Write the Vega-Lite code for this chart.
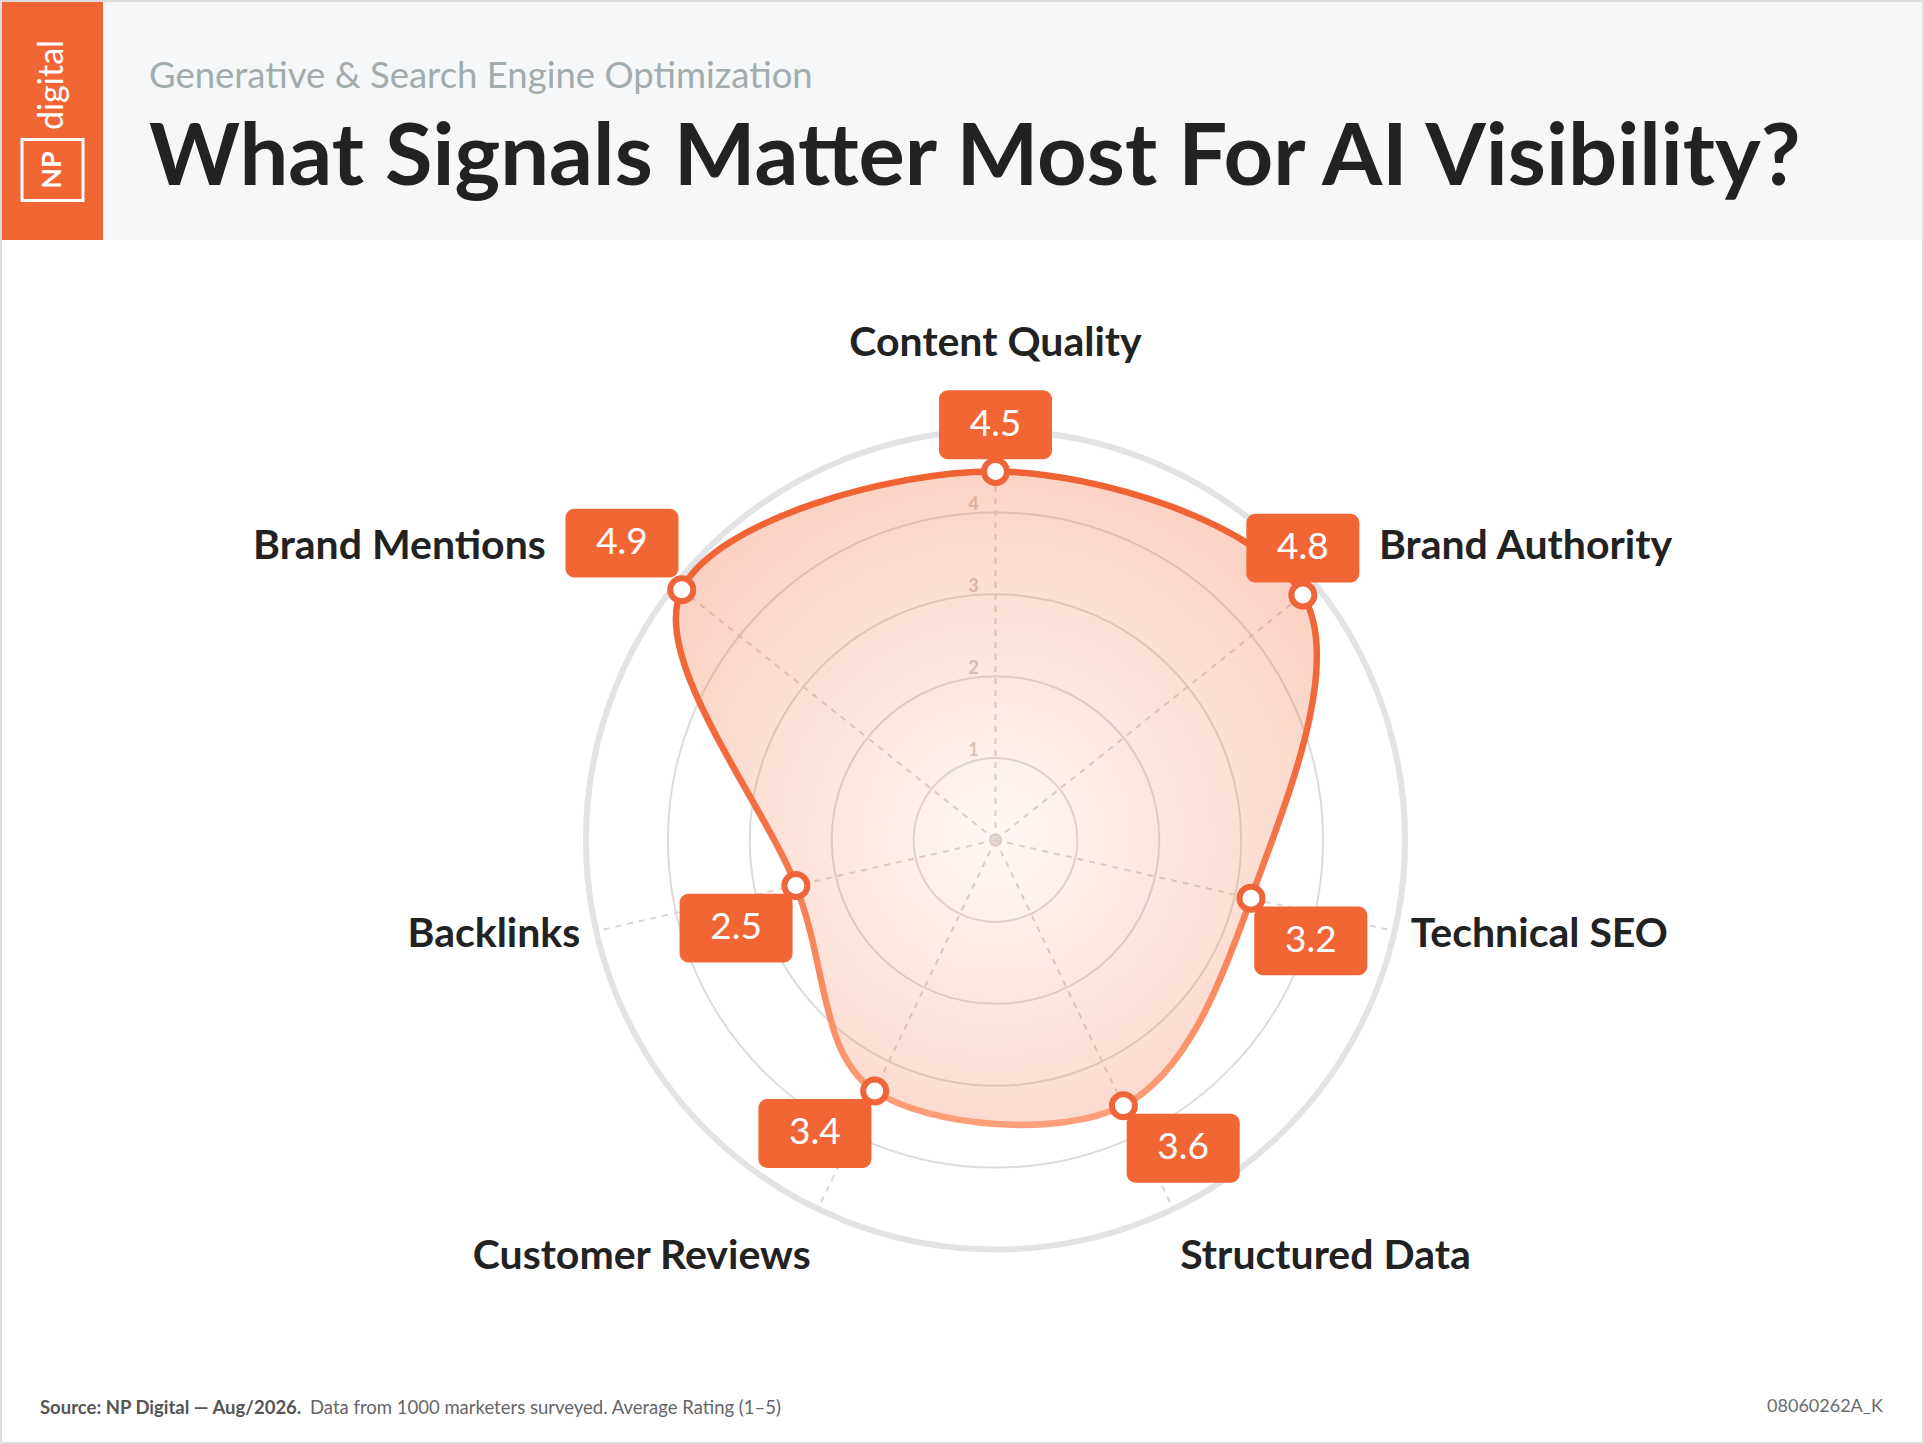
{
  "$schema": "https://vega.github.io/schema/vega-lite/v6.json",
  "background": "#dcdddf",
  "padding": 2,
  "config": {
    "font": "Lato",
    "view": {"stroke": null},
    "concat": {"spacing": 0},
    "title": {"font": "Lato", "subtitleFont": "Lato"}
  },
  "datasets": {
    "signals": [
      {"signal": "Content Quality", "rating": 4.5},
      {"signal": "Brand Authority", "rating": 4.8},
      {"signal": "Technical SEO", "rating": 3.2},
      {"signal": "Structured Data", "rating": 3.6},
      {"signal": "Customer Reviews", "rating": 3.4},
      {"signal": "Backlinks", "rating": 2.5},
      {"signal": "Brand Mentions", "rating": 4.9}
    ],
    "rings": [{"v": 1}, {"v": 2}, {"v": 3}, {"v": 4}, {"v": 5}],
    "logo": [{"part": "digital"}, {"part": "NP"}]
  },
  "title": {"text": "08060262A_K", "orient": "bottom", "anchor": "end", "offset": -44, "dx": -39, "fontSize": 18, "fontWeight": 400, "color": "#6b6b6b"},
  "spacing": 0,
  "vconcat": [
    {
      "spacing": 0,
      "hconcat": [
        {
          "width": 101,
          "height": 238,
          "view": {"fill": "#f26636", "stroke": null},
          "data": {"name": "logo"},
          "layer": [
            {
              "transform": [{"filter": "datum.part == 'digital'"}],
              "mark": {"type": "text", "angle": 270, "color": "white", "fontSize": 34, "fontWeight": 400, "align": "center", "baseline": "middle", "dx": 36},
              "encoding": {"text": {"field": "part", "type": "nominal"}}
            },
            {
              "transform": [{"filter": "datum.part == 'NP'"}],
              "mark": {"type": "text", "angle": 270, "color": "white", "fontSize": 27, "fontWeight": 700, "align": "center", "baseline": "middle", "dx": -49},
              "encoding": {"text": {"field": "part", "type": "nominal"}}
            },
            {
              "transform": [{"filter": "datum.part == 'NP'"}],
              "mark": {"type": "point", "shape": "M-1,0.607H1V2.607H-1Z", "filled": false, "stroke": "white", "strokeWidth": 3, "size": 3721, "opacity": 1}
            }
          ]
        },
        {
          "width": 1819,
          "height": 238,
          "view": {"fill": "#f6f7f9", "stroke": null},
          "title": {
            "text": "Generative & Search Engine Optimization",
            "subtitle": "What Signals Matter Most For AI Visibility?",
            "orient": "top",
            "anchor": "start",
            "offset": -201,
            "dx": 46,
            "fontSize": 36.5,
            "fontWeight": 400,
            "color": "#a2acac",
            "subtitleFontSize": 86.7,
            "subtitleFontWeight": 700,
            "subtitleColor": "#222222",
            "subtitlePadding": 22
          },
          "data": {"values": [{"blank": 0}]},
          "mark": {"type": "point", "opacity": 0}
        }
      ]
    },
    {
      "title": {"text": "Data from 1000 marketers surveyed. Average Rating (1–5)", "orient": "bottom", "anchor": "start", "offset": -43, "dx": 308, "fontSize": 18.5, "fontWeight": 400, "color": "#666666"},
      "vconcat": [
        {
          "width": 1920,
          "height": 1202,
          "view": {"fill": "white", "stroke": null},
          "title": {"text": "Source: NP Digital — Aug/2026.", "orient": "bottom", "anchor": "start", "offset": -43, "dx": 38, "fontSize": 18.5, "fontWeight": 700, "color": "#555555"},
          "data": {"name": "signals"},
          "transform": [
            {"window": [{"op": "row_number", "as": "rn"}]},
            {"calculate": "(datum.rn - 1) * 2 * PI / 7", "as": "a"},
            {"calculate": "sin(datum.a)", "as": "s"},
            {"calculate": "cos(datum.a)", "as": "c"},
            {"calculate": "0", "as": "o"},
            {"calculate": "datum.rating * datum.s", "as": "px"},
            {"calculate": "datum.rating * datum.c", "as": "py"},
            {"calculate": "5 * datum.s", "as": "ex"},
            {"calculate": "5 * datum.c", "as": "ey"},
            {"calculate": "datum.px + (datum.s < -0.1 ? -0.73 : (datum.c < 0 ? 0.73 : 0))", "as": "bx"},
            {"calculate": "datum.py + (datum.c > 0 ? 0.57 : -0.52)", "as": "by"},
            {"calculate": "datum.bx - 0.69", "as": "bx1"},
            {"calculate": "datum.bx + 0.69", "as": "bx2"},
            {"calculate": "datum.by - 0.42", "as": "by1"},
            {"calculate": "datum.by + 0.42", "as": "by2"},
            {"calculate": "datum.s > 0.1 ? (datum.c > 0.2 ? max(5.2 * datum.s, datum.bx2 + 0.24) : 5.2 * datum.s) : (datum.s < -0.1 ? (datum.c > 0.2 ? min(5.2 * datum.s, datum.bx1 - 0.24) : 5.2 * datum.s) : 0)", "as": "lx"},
            {"calculate": "abs(datum.s) < 0.1 ? datum.by2 + 0.57 : 5.6 * datum.c + (datum.c > -0.5 ? 0.09 : -0.05)", "as": "ly"}
          ],
          "layer": [
            {
              "data": {"name": "rings"},
              "transform": [{"filter": "datum.v == 5"}, {"calculate": "0", "as": "o"}],
              "mark": {"type": "arc", "filled": false, "stroke": "#e2e3e5", "strokeWidth": 6, "theta": 0, "theta2": 6.2832},
              "encoding": {
                "x": {"field": "o", "type": "quantitative", "scale": {"domain": [-12.131, 11.313], "nice": false, "zero": false}, "axis": null},
                "y": {"field": "o", "type": "quantitative", "scale": {"domain": [-7.35, 7.326], "nice": false, "zero": false}, "axis": null},
                "radius": {"field": "v", "type": "quantitative", "stack": null, "scale": {"type": "linear", "domain": [0, 5], "range": [0, 409.5], "zero": true}}
              }
            },
            {
              "data": {"name": "rings"},
              "transform": [{"filter": "datum.v < 5"}, {"calculate": "0", "as": "o"}],
              "mark": {"type": "arc", "filled": false, "stroke": "#dcdcdc", "strokeWidth": 2, "theta": 0, "theta2": 6.2832},
              "encoding": {
                "x": {"field": "o", "type": "quantitative", "scale": {"domain": [-12.131, 11.313], "nice": false, "zero": false}, "axis": null},
                "y": {"field": "o", "type": "quantitative", "scale": {"domain": [-7.35, 7.326], "nice": false, "zero": false}, "axis": null},
                "radius": {"field": "v", "type": "quantitative", "stack": null, "scale": {"type": "linear", "domain": [0, 5], "range": [0, 409.5], "zero": true}}
              }
            },
            {
              "data": {"name": "rings"},
              "transform": [{"filter": "datum.v < 5"}, {"calculate": "datum.v + 0.09", "as": "ty"}, {"calculate": "-0.27", "as": "tx"}],
              "mark": {"type": "text", "color": "#d4cbc7", "fontSize": 18, "fontWeight": 700, "align": "center", "baseline": "middle"},
              "encoding": {
                "x": {"field": "tx", "type": "quantitative", "scale": {"domain": [-12.131, 11.313], "nice": false, "zero": false}, "axis": null},
                "y": {"field": "ty", "type": "quantitative", "scale": {"domain": [-7.35, 7.326], "nice": false, "zero": false}, "axis": null},
                "text": {"field": "v", "type": "quantitative"}
              }
            },
            {
              "data": {"name": "rings"},
              "transform": [{"filter": "datum.v == 5"}, {"calculate": "0", "as": "o"}],
              "mark": {"type": "point", "shape": "circle", "filled": false, "stroke": "#dcd4d0", "strokeWidth": 3, "size": 110, "opacity": 1},
              "encoding": {
                "x": {"field": "o", "type": "quantitative", "scale": {"domain": [-12.131, 11.313], "nice": false, "zero": false}, "axis": null},
                "y": {"field": "o", "type": "quantitative", "scale": {"domain": [-7.35, 7.326], "nice": false, "zero": false}, "axis": null}
              }
            },
            {
              "mark": {"type": "rule", "stroke": "#ddd5d1", "strokeWidth": 2, "strokeDash": [6, 6]},
              "encoding": {
                "x": {"field": "o", "type": "quantitative", "scale": {"domain": [-12.131, 11.313], "nice": false, "zero": false}, "axis": null},
                "y": {"field": "o", "type": "quantitative", "scale": {"domain": [-7.35, 7.326], "nice": false, "zero": false}, "axis": null},
                "x2": {"field": "ex"},
                "y2": {"field": "ey"}
              }
            },
            {
              "mark": {
                "type": "line",
                "interpolate": "cardinal-closed",
                "tension": 0,
                "strokeWidth": 6.5,
                "strokeJoin": "round",
                "fill": {
                  "gradient": "radial",
                  "x1": 0.5, "y1": 0.56, "r1": 0,
                  "x2": 0.5, "y2": 0.56, "r2": 0.62,
                  "stops": [
                    {"offset": 0, "color": "rgba(242,102,54,0.05)"},
                    {"offset": 1, "color": "rgba(242,102,54,0.31)"}
                  ]
                },
                "stroke": {
                  "gradient": "linear",
                  "x1": 0, "y1": 0, "x2": 0, "y2": 1,
                  "stops": [
                    {"offset": 0, "color": "#ef6232"},
                    {"offset": 0.45, "color": "#f26a3c"},
                    {"offset": 1, "color": "#fda07a"}
                  ]
                }
              },
              "encoding": {
                "x": {"field": "px", "type": "quantitative", "scale": {"domain": [-12.131, 11.313], "nice": false, "zero": false}, "axis": null},
                "y": {"field": "py", "type": "quantitative", "scale": {"domain": [-7.35, 7.326], "nice": false, "zero": false}, "axis": null},
                "order": {"field": "rn", "type": "quantitative"}
              }
            },
            {
              "mark": {"type": "point", "shape": "circle", "filled": true, "fill": "white", "stroke": "#f0643a", "strokeWidth": 6, "size": 530, "opacity": 1},
              "encoding": {
                "x": {"field": "px", "type": "quantitative", "scale": {"domain": [-12.131, 11.313], "nice": false, "zero": false}, "axis": null},
                "y": {"field": "py", "type": "quantitative", "scale": {"domain": [-7.35, 7.326], "nice": false, "zero": false}, "axis": null}
              }
            },
            {
              "mark": {"type": "rect", "color": "#f26636", "cornerRadius": 9},
              "encoding": {
                "x": {"field": "bx1", "type": "quantitative", "scale": {"domain": [-12.131, 11.313], "nice": false, "zero": false}, "axis": null},
                "x2": {"field": "bx2"},
                "y": {"field": "by1", "type": "quantitative", "scale": {"domain": [-7.35, 7.326], "nice": false, "zero": false}, "axis": null},
                "y2": {"field": "by2"}
              }
            },
            {
              "mark": {"type": "text", "color": "white", "fontSize": 37, "fontWeight": 400, "align": "center", "baseline": "middle"},
              "encoding": {
                "x": {"field": "bx", "type": "quantitative", "scale": {"domain": [-12.131, 11.313], "nice": false, "zero": false}, "axis": null},
                "y": {"field": "by", "type": "quantitative", "scale": {"domain": [-7.35, 7.326], "nice": false, "zero": false}, "axis": null},
                "text": {"field": "rating", "type": "quantitative", "format": ".1f"}
              }
            },
            {
              "transform": [{"filter": "datum.s > 0.1"}],
              "mark": {"type": "text", "color": "#222222", "fontSize": 41, "fontWeight": 700, "align": "left", "baseline": "middle"},
              "encoding": {
                "x": {"field": "lx", "type": "quantitative", "scale": {"domain": [-12.131, 11.313], "nice": false, "zero": false}, "axis": null},
                "y": {"field": "ly", "type": "quantitative", "scale": {"domain": [-7.35, 7.326], "nice": false, "zero": false}, "axis": null},
                "text": {"field": "signal", "type": "nominal"}
              }
            },
            {
              "transform": [{"filter": "datum.s < -0.1"}],
              "mark": {"type": "text", "color": "#222222", "fontSize": 41, "fontWeight": 700, "align": "right", "baseline": "middle"},
              "encoding": {
                "x": {"field": "lx", "type": "quantitative", "scale": {"domain": [-12.131, 11.313], "nice": false, "zero": false}, "axis": null},
                "y": {"field": "ly", "type": "quantitative", "scale": {"domain": [-7.35, 7.326], "nice": false, "zero": false}, "axis": null},
                "text": {"field": "signal", "type": "nominal"}
              }
            },
            {
              "transform": [{"filter": "abs(datum.s) <= 0.1"}],
              "mark": {"type": "text", "color": "#222222", "fontSize": 41, "fontWeight": 700, "align": "center", "baseline": "middle"},
              "encoding": {
                "x": {"field": "lx", "type": "quantitative", "scale": {"domain": [-12.131, 11.313], "nice": false, "zero": false}, "axis": null},
                "y": {"field": "ly", "type": "quantitative", "scale": {"domain": [-7.35, 7.326], "nice": false, "zero": false}, "axis": null},
                "text": {"field": "signal", "type": "nominal"}
              }
            }
          ]
        }
      ]
    }
  ]
}
